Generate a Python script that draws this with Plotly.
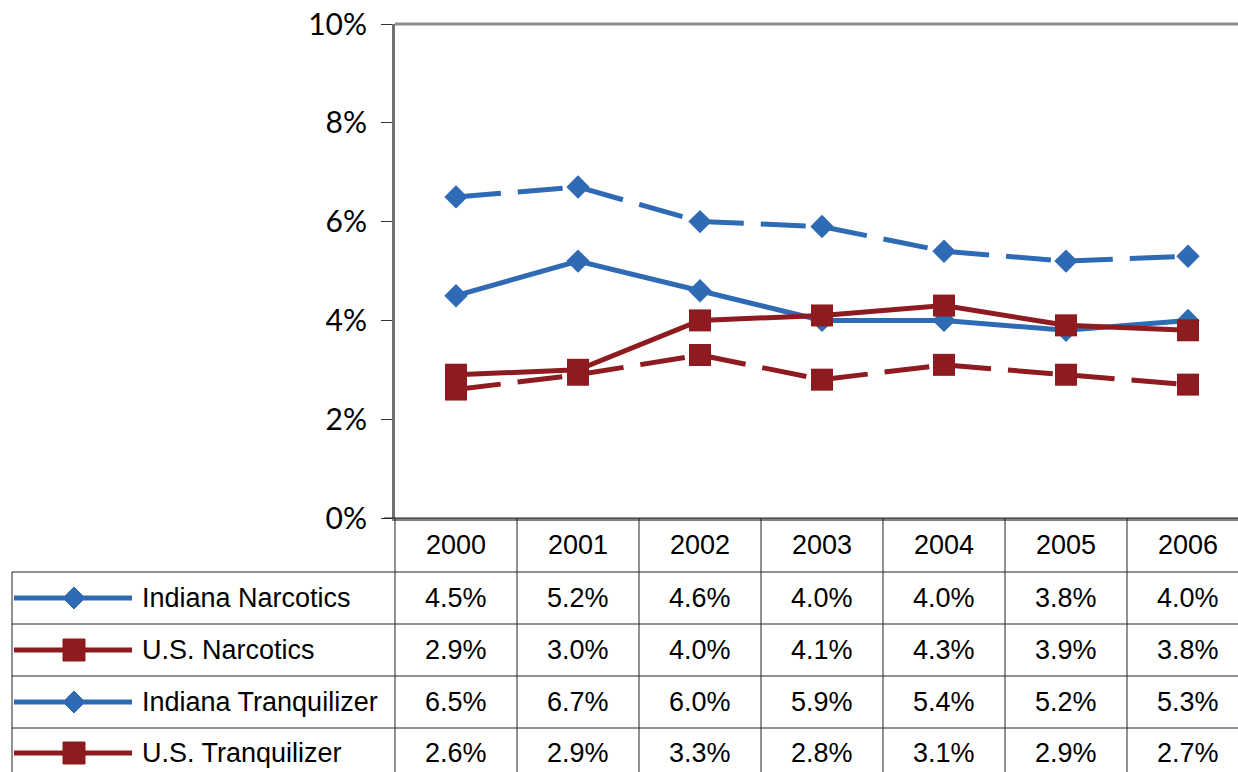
import plotly.graph_objects as go

# Chart data
years = ["2000", "2001", "2002", "2003", "2004", "2005", "2006"]
indiana_narcotics = [4.5, 5.2, 4.6, 4.0, 4.0, 3.8, 4.0]
us_narcotics = [2.9, 3.0, 4.0, 4.1, 4.3, 3.9, 3.8]
indiana_tranquilizer = [6.5, 6.7, 6.0, 5.9, 5.4, 5.2, 5.3]
us_tranquilizer = [2.6, 2.9, 3.3, 2.8, 3.1, 2.9, 2.7]

BLUE = "#2F6AB4"
RED = "#8E1B1F"

series = [
    ("Indiana Narcotics", indiana_narcotics, BLUE, "diamond", "solid"),
    ("U.S. Narcotics", us_narcotics, RED, "square", "solid"),
    ("Indiana Tranquilizer", indiana_tranquilizer, BLUE, "diamond", "45px,17px"),
    ("U.S. Tranquilizer", us_tranquilizer, RED, "square", "45px,17px"),
]

W, H = 1238, 772
L, T, B = 395, 24, 518          # plot area edges in pixels
PW, PH = W - L, B - T
COL = 122                        # width of one category column in pixels

TABLE_FONT = "Liberation Sans Narrow, Arial Narrow, Liberation Sans, Arial, sans-serif"
TABLE_SIZE = 27


def px(x):
    return (x - L) / PW


def py(y):
    return (B - y) / PH


fig = go.Figure()

for name, vals, color, symbol, dash in series:
    fig.add_trace(
        go.Scatter(
            x=list(range(len(years))),
            y=[v / 100 for v in vals],
            mode="lines+markers",
            name=name,
            line=dict(color=color, width=5, dash=dash),
            marker=dict(symbol=symbol, size=18 if symbol == "diamond" else 22,
                        color=color),
            cliponaxis=False,
            showlegend=False,
        )
    )

shapes = []
annotations = []

# table grid
row_lines = [572, 624, 676, 728]
row_centers = [598, 650, 702, 753]
shapes.append(dict(type="line", xref="paper", yref="paper",
                   x0=px(384), x1=1, y0=0, y1=0,
                   line=dict(color="#222", width=1)))
for y in row_lines:
    shapes.append(dict(type="line", xref="paper", yref="paper",
                       x0=px(12), x1=1, y0=py(y), y1=py(y),
                       line=dict(color="#222", width=1)))
shapes.append(dict(type="line", xref="paper", yref="paper",
                   x0=px(12), x1=px(12), y0=py(572), y1=py(H),
                   line=dict(color="#222", width=1)))
shapes.append(dict(type="line", xref="paper", yref="paper",
                   x0=0, x1=0, y0=0, y1=py(H),
                   line=dict(color="#222", width=1)))
for i in range(len(years) - 1):
    shapes.append(dict(type="line", xref="x", yref="paper",
                       x0=i + 0.5, x1=i + 0.5, y0=0, y1=py(H),
                       line=dict(color="#222", width=1)))

# year header
for i, yr in enumerate(years):
    annotations.append(dict(x=i, y=py(545), xref="x", yref="paper",
                            text=yr, showarrow=False,
                            xanchor="center", yanchor="middle",
                            font=dict(size=TABLE_SIZE, color="black", family=TABLE_FONT)))

# legend keys and values
for (name, vals, color, symbol, dash), yc in zip(series, row_centers):
    shapes.append(dict(type="line", xref="paper", yref="paper",
                       x0=px(14), x1=px(132), y0=py(yc), y1=py(yc),
                       line=dict(color=color, width=5)))
    cx, r = 74, 11
    if symbol == "diamond":
        path = (f"M {px(cx - r)},{py(yc)} L {px(cx)},{py(yc - r)} "
                f"L {px(cx + r)},{py(yc)} L {px(cx)},{py(yc + r)} Z")
    else:
        path = (f"M {px(cx - r)},{py(yc - r)} L {px(cx + r)},{py(yc - r)} "
                f"L {px(cx + r)},{py(yc + r)} L {px(cx - r)},{py(yc + r)} Z")
    shapes.append(dict(type="path", xref="paper", yref="paper", path=path,
                       fillcolor=color, line=dict(color=color, width=1)))
    annotations.append(dict(x=px(140), y=py(yc), xref="paper", yref="paper",
                            text=name, showarrow=False,
                            xanchor="left", yanchor="middle",
                            font=dict(size=TABLE_SIZE, color="black", family=TABLE_FONT)))
    for i, v in enumerate(vals):
        annotations.append(dict(x=i, y=py(yc), xref="x", yref="paper",
                                text=f"{v:.1f}%", showarrow=False,
                                xanchor="center", yanchor="middle",
                                font=dict(size=TABLE_SIZE, color="black", family=TABLE_FONT)))

fig.update_layout(
    width=W, height=H,
    margin=dict(l=L, r=0, t=T, b=H - B, pad=0),
    plot_bgcolor="white", paper_bgcolor="white",
    shapes=shapes, annotations=annotations,
    xaxis=dict(range=[-0.5, -0.5 + PW / COL], showticklabels=False,
               showgrid=False, zeroline=False, showline=True,
               linecolor="#808080", linewidth=3, ticks=""),
    yaxis=dict(range=[0, 0.10], dtick=0.02, tickformat=".0%",
               showgrid=False, zeroline=False, showline=True, mirror=False,
               linecolor="#707070", linewidth=3, ticks="outside", ticklen=11,
               tickcolor="#333", tickwidth=1, ticklabelstandoff=8,
               tickfont=dict(family="Lato, Open Sans, sans-serif", size=30, color="black")),
)

# top border of the plot area
fig.add_shape(type="line", xref="paper", yref="paper", x0=0, x1=1, y0=1, y1=1,
              line=dict(color="#8a8a8a", width=3))

# page without the default body margin so the figure sits at (0, 0)
fig.write_html("out.html", config={"displayModeBar": False},
               post_script="document.body.style.margin='0';")
